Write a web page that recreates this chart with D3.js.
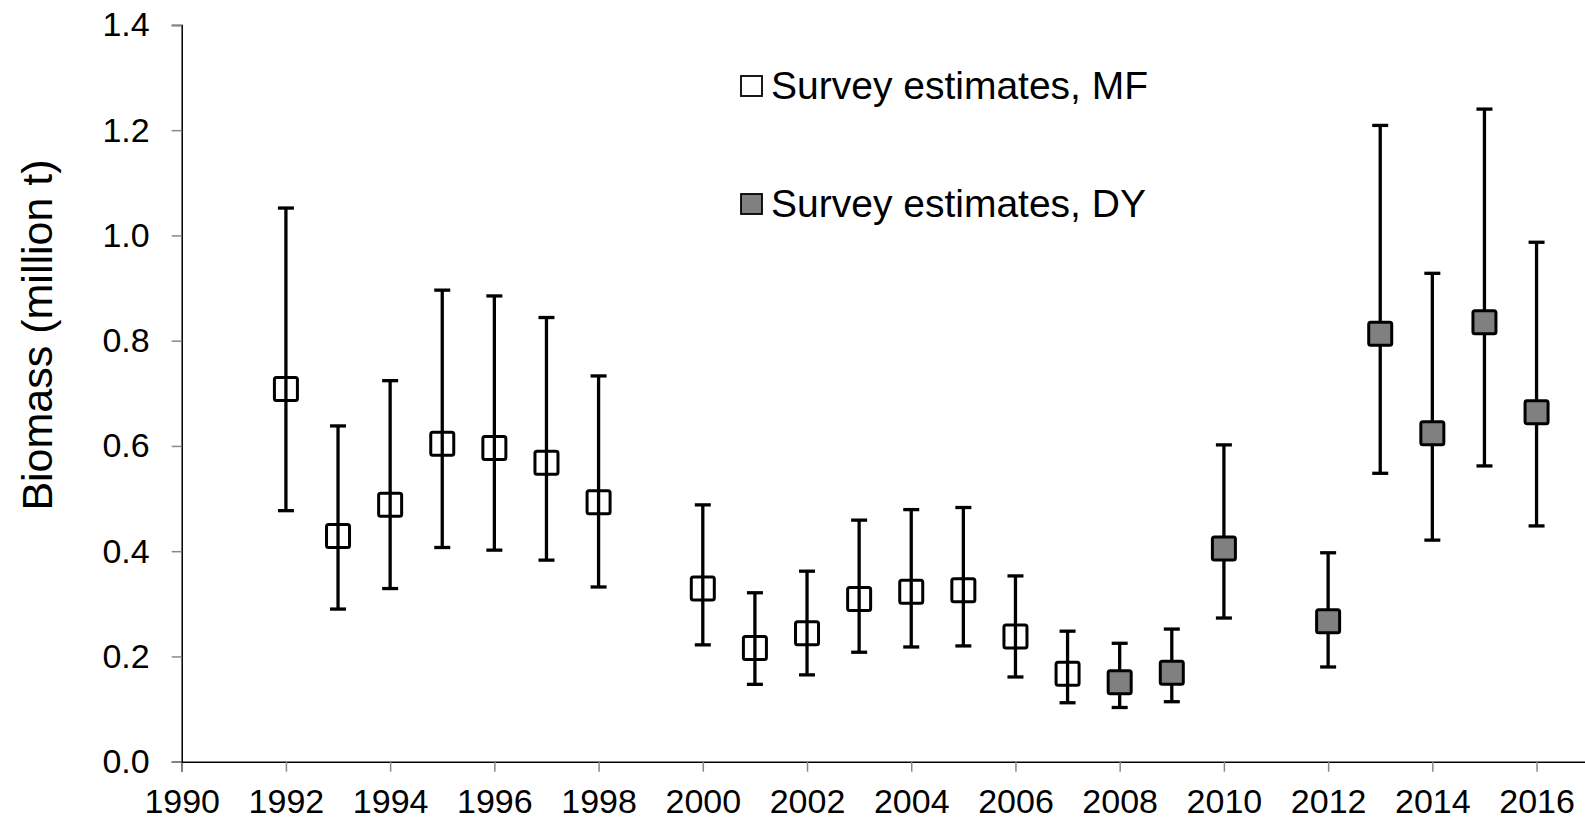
<!DOCTYPE html>
<html>
<head>
<meta charset="utf-8">
<script src="https://cdn.jsdelivr.net/npm/d3@7"></script>
<style>
  html, body { margin: 0; padding: 0; background: #fff; overflow: hidden; }
  svg { display: block; font-family: "Liberation Sans", Arial, Helvetica, sans-serif; }
</style>
</head>
<body>
<svg id="chart" width="1585" height="822"></svg>
<script>
// Survey years and biomass estimates (million t) with confidence limits
const mfYears = [1992, 1993, 1994, 1995, 1996, 1997, 1998, 2000, 2001, 2002, 2003, 2004, 2005, 2006, 2007];
const mfMean  = [0.708, 0.429, 0.488, 0.604, 0.596, 0.568, 0.493, 0.329, 0.216, 0.244, 0.309, 0.323, 0.326, 0.238, 0.167];
const mfLow   = [0.477, 0.290, 0.329, 0.407, 0.402, 0.383, 0.332, 0.222, 0.147, 0.165, 0.208, 0.218, 0.220, 0.161, 0.112];
const mfHigh  = [1.052, 0.638, 0.724, 0.896, 0.885, 0.844, 0.733, 0.488, 0.321, 0.362, 0.459, 0.479, 0.483, 0.353, 0.248];

const dyYears = [2008, 2009, 2010, 2012, 2013, 2014, 2015, 2016];
const dyMean  = [0.151, 0.169, 0.405, 0.267, 0.813, 0.624, 0.835, 0.664];
const dyLow   = [0.103, 0.114, 0.273, 0.180, 0.548, 0.421, 0.562, 0.448];
const dyHigh  = [0.225, 0.252, 0.602, 0.397, 1.209, 0.928, 1.240, 0.987];

const xTicks = [1990, 1992, 1994, 1996, 1998, 2000, 2002, 2004, 2006, 2008, 2010, 2012, 2014, 2016];
const yTicks = [0, 0.2, 0.4, 0.6, 0.8, 1.0, 1.2, 1.4];

const seriesNames = ["Survey estimates, MF", "Survey estimates, DY"];
const yTitle = "Biomass (million t)";

const svg = d3.select("#chart");
const plotLeft = 181.7, plotBottom = 761.7, plotTop = 24.9, perYear = 52.11;

const x = d3.scaleLinear().domain([1990, 2017]).range([plotLeft, plotLeft + 27 * perYear]);
const y = d3.scaleLinear().domain([0, 1.4]).range([plotBottom, plotTop]);

// Axes
const xAxis = svg.append("g")
  .attr("transform", `translate(0,${plotBottom})`)
  .call(d3.axisBottom(x).tickValues(xTicks).tickFormat(d3.format("d")).tickSize(10).tickPadding(17));
const yAxis = svg.append("g")
  .attr("transform", `translate(${plotLeft},0)`)
  .call(d3.axisLeft(y).tickValues(yTicks).tickFormat(d3.format(".1f")).tickSize(10).tickPadding(22));

[xAxis, yAxis].forEach(g => {
  g.select(".domain").attr("stroke", "#000").attr("stroke-width", 1.5);
  g.selectAll(".tick line").attr("stroke", "#888").attr("stroke-width", 1.5);
  g.selectAll(".tick text").attr("fill", "#000").style("font-size", "34px");
});
xAxis.selectAll(".tick text").attr("dy", "0.71em");

// Y axis title
svg.append("text")
  .attr("transform", `translate(52,335) rotate(-90)`)
  .attr("text-anchor", "middle")
  .style("font-size", "43px")
  .text(yTitle);

// Error bars and markers
function drawSeries(years, mean, low, high, fill) {
  const g = svg.append("g");
  const rows = years.map((yr, i) => ({ yr, m: mean[i], lo: low[i], hi: high[i] }));
  const capW = 16, box = 23;
  g.selectAll("line.v").data(rows).join("line")
    .attr("x1", d => x(d.yr)).attr("x2", d => x(d.yr))
    .attr("y1", d => y(d.lo)).attr("y2", d => y(d.hi))
    .attr("stroke", "#000").attr("stroke-width", 3.3);
  g.selectAll("line.capHi").data(rows).join("line")
    .attr("x1", d => x(d.yr) - capW / 2).attr("x2", d => x(d.yr) + capW / 2)
    .attr("y1", d => y(d.hi)).attr("y2", d => y(d.hi))
    .attr("stroke", "#000").attr("stroke-width", 3.3);
  g.selectAll("line.capLo").data(rows).join("line")
    .attr("x1", d => x(d.yr) - capW / 2).attr("x2", d => x(d.yr) + capW / 2)
    .attr("y1", d => y(d.lo)).attr("y2", d => y(d.lo))
    .attr("stroke", "#000").attr("stroke-width", 3.3);
  g.selectAll("rect").data(rows).join("rect")
    .attr("x", d => x(d.yr) - box / 2).attr("y", d => y(d.m) - box / 2)
    .attr("width", box).attr("height", box).attr("rx", 2)
    .attr("fill", fill).attr("stroke", "#000").attr("stroke-width", 3);
}
drawSeries(mfYears, mfMean, mfLow, mfHigh, "none");
drawSeries(dyYears, dyMean, dyLow, dyHigh, "#808080");

// Legend
const legend = svg.append("g");
const legendRows = [
  { name: seriesNames[0], fill: "#fff", cy: 86 },
  { name: seriesNames[1], fill: "#808080", cy: 204 }
];
legendRows.forEach(r => {
  legend.append("rect")
    .attr("x", 741).attr("y", r.cy - 10).attr("width", 21).attr("height", 20)
    .attr("fill", r.fill).attr("stroke", "#000").attr("stroke-width", 1.8);
  legend.append("text")
    .attr("x", 771).attr("y", r.cy + 13)
    .style("font-size", "39px")
    .text(r.name);
});
</script>
</body>
</html>
